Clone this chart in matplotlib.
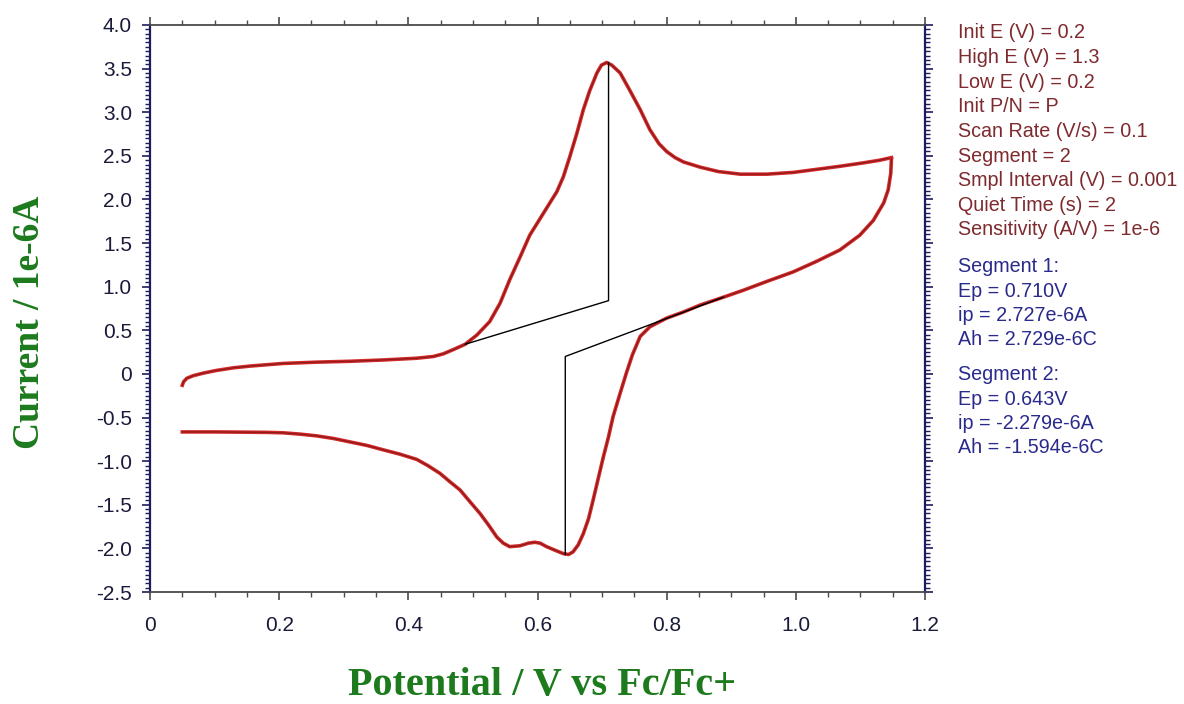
import matplotlib
matplotlib.use("Agg")
import matplotlib.pyplot as plt
from matplotlib.ticker import MultipleLocator, FuncFormatter

# forward scan (segment 1), potential in V, current in 1e-6 A
fwd_e = [0.050, 0.052, 0.057, 0.067, 0.083, 0.103, 0.129, 0.155, 0.206, 0.258,
         0.310, 0.361, 0.413, 0.439, 0.454, 0.470, 0.488, 0.506, 0.526, 0.542,
         0.557, 0.573, 0.588, 0.609, 0.630, 0.640, 0.650, 0.661, 0.671, 0.681,
         0.692, 0.699, 0.707, 0.715, 0.728, 0.743, 0.759, 0.774, 0.788, 0.800,
         0.813, 0.826, 0.852, 0.880, 0.914, 0.955, 0.996, 1.032, 1.068, 1.105,
         1.130, 1.148]
fwd_i = [-0.13, -0.09, -0.05, -0.02, 0.01, 0.04, 0.07, 0.09, 0.12, 0.135,
         0.145, 0.16, 0.18, 0.20, 0.23, 0.28, 0.34, 0.445, 0.60, 0.81,
         1.08, 1.34, 1.59, 1.84, 2.09, 2.26, 2.49, 2.76, 3.03, 3.25,
         3.45, 3.54, 3.57, 3.54, 3.45, 3.25, 3.03, 2.80, 2.64, 2.55,
         2.48, 2.43, 2.37, 2.32, 2.29, 2.29, 2.31, 2.345, 2.38, 2.42,
         2.45, 2.48]

# reverse scan (segment 2)
rev_e = [1.148, 1.147, 1.143, 1.136, 1.120, 1.099, 1.068, 1.032, 0.996, 0.955,
         0.919, 0.888, 0.852, 0.826, 0.800, 0.774, 0.759, 0.747, 0.738, 0.728,
         0.717, 0.710, 0.702, 0.694, 0.686, 0.679, 0.671, 0.663, 0.655, 0.648,
         0.640, 0.630, 0.614, 0.604, 0.596, 0.586, 0.573, 0.557, 0.547, 0.537,
         0.524, 0.511, 0.496, 0.480, 0.465, 0.449, 0.430, 0.413, 0.387, 0.361,
         0.336, 0.310, 0.284, 0.258, 0.232, 0.206, 0.181, 0.103, 0.050]
rev_i = [2.47, 2.30, 2.11, 1.96, 1.76, 1.59, 1.42, 1.29, 1.17, 1.06,
         0.96, 0.88, 0.79, 0.71, 0.64, 0.54, 0.43, 0.22, 0.02, -0.22,
         -0.49, -0.72, -0.95, -1.20, -1.45, -1.66, -1.83, -1.96, -2.04, -2.07,
         -2.06, -2.03, -1.98, -1.94, -1.93, -1.94, -1.97, -1.98, -1.94, -1.87,
         -1.73, -1.60, -1.47, -1.33, -1.24, -1.14, -1.05, -0.98, -0.92, -0.87,
         -0.82, -0.78, -0.74, -0.71, -0.69, -0.675, -0.67, -0.665, -0.665]

# peak baselines and peak drop lines
base1_e = [0.488, 0.710, 0.710]
base1_i = [0.34, 0.84, 3.57]
base2_e = [0.888, 0.643, 0.643]
base2_i = [0.88, 0.20, -2.07]

params = ["Init E (V) = 0.2", "High E (V) = 1.3", "Low E (V) = 0.2",
          "Init P/N = P", "Scan Rate (V/s) = 0.1", "Segment = 2",
          "Smpl Interval (V) = 0.001", "Quiet Time (s) = 2",
          "Sensitivity (A/V) = 1e-6"]
seg1 = ["Segment 1:", "Ep = 0.710V", "ip = 2.727e-6A", "Ah = 2.729e-6C"]
seg2 = ["Segment 2:", "Ep = 0.643V", "ip = -2.279e-6A", "Ah = -1.594e-6C"]

W, H = 1184, 704
NAVY = "#1c1c5e"
GREY = "#4a4a4a"
GREEN = "#1d7a1d"

fig = plt.figure(figsize=(W / 100, H / 100), dpi=100)
ax = fig.add_axes([150 / W, 1 - 592 / H, 775 / W, 567 / H])

for e, i in ((fwd_e, fwd_i), (rev_e, rev_i)):
    ax.plot(e, i, color="#d42a2a", lw=2.6, solid_joinstyle="round")
    ax.plot(e, i, color="#8c1a1a", lw=0.9, solid_joinstyle="round")
ax.plot(base1_e, base1_i, color="black", lw=1.0)
ax.plot(base2_e, base2_i, color="black", lw=1.0)

ax.set_xlim(0, 1.2)
ax.set_ylim(-2.5, 4.0)
ax.xaxis.set_major_locator(MultipleLocator(0.2))
ax.xaxis.set_minor_locator(MultipleLocator(0.05))
ax.yaxis.set_major_locator(MultipleLocator(0.5))
ax.yaxis.set_minor_locator(MultipleLocator(0.05))


def fmt(v, pos):
    return "0" if abs(v) < 1e-9 else f"{v:.1f}"


ax.xaxis.set_major_formatter(FuncFormatter(fmt))
ax.yaxis.set_major_formatter(FuncFormatter(fmt))

for s in ("left", "right"):
    ax.spines[s].set_color(NAVY)
    ax.spines[s].set_linewidth(1.6)
for s in ("top", "bottom"):
    ax.spines[s].set_color(GREY)
    ax.spines[s].set_linewidth(1.3)

ax.tick_params(axis="x", which="both", direction="out", top=True, bottom=True,
               colors=GREY, labelcolor="#1a1a3a", labelsize=15, pad=11)
ax.tick_params(axis="x", which="major", length=6, width=1.2)
ax.tick_params(axis="x", which="minor", length=3.5, width=1.0)
ax.tick_params(axis="y", which="both", direction="out", left=True, right=True,
               colors=NAVY, labelcolor="#1a1a3a", labelsize=15, pad=7)
ax.tick_params(axis="y", which="major", length=6, width=1.2)
ax.tick_params(axis="y", which="minor", length=3.5, width=1.0)
for lab in ax.get_xticklabels() + ax.get_yticklabels():
    lab.set_family("Liberation Sans")

fig.text(30 / W, 1 - 322 / H, "Current / 1e-6A", rotation=90, color=GREEN,
         family="Liberation Serif", weight="bold", fontsize=27,
         ha="center", va="center")
fig.text(542 / W, 1 - 686 / H, "Potential / V vs Fc/Fc+", color=GREEN,
         family="Liberation Serif", weight="bold", fontsize=29,
         ha="center", va="center")

x0 = 958 / W
for k, line in enumerate(params):
    fig.text(x0, 1 - (33 + 24.6 * k) / H, line, color="#7e2a2e",
             family="Liberation Sans", fontsize=14.2, va="center")
for k, line in enumerate(seg1):
    fig.text(x0, 1 - (267 + 24.3 * k) / H, line, color="#2a2a8c",
             family="Liberation Sans", fontsize=14.2, va="center")
for k, line in enumerate(seg2):
    fig.text(x0, 1 - (375 + 24.3 * k) / H, line, color="#2a2a8c",
             family="Liberation Sans", fontsize=14.2, va="center")

fig.savefig("out.png", dpi=100)
